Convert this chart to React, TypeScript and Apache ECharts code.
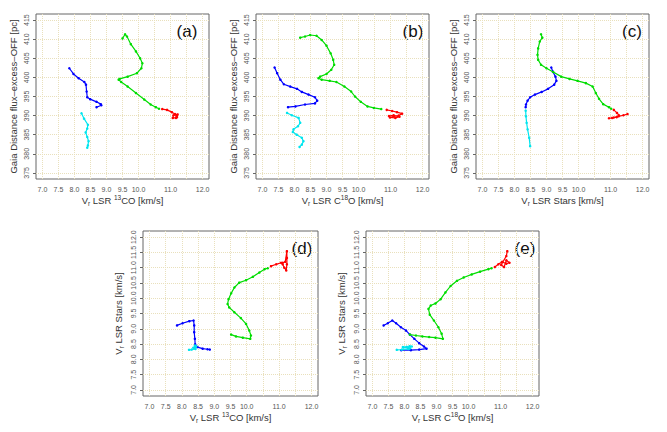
import React, { useEffect, useRef } from 'react';
import * as echarts from 'echarts';

// ---- tick values ----
const velTicks = [7, 7.5, 8, 8.5, 9, 9.5, 10, 10.5, 11, 11.5, 12];
const velLabels = [7, 7.5, 8, 8.5, 9, 9.5, 10, 11, 12];
const starTicks = [7, 7.5, 8, 8.5, 9, 9.5, 10, 10.5, 11, 11.5, 12];
const distTicks = [375, 380, 385, 390, 395, 400, 405, 410, 415];

// ---- (a) distance vs Vr 13CO ----
const a_blue = [[7.84, 402.4], [7.97, 400.9], [8.13, 399.8], [8.31, 398.8], [8.36, 398.1], [8.38, 396.3], [8.40, 394.8], [8.49, 394.3], [8.69, 393.6], [8.82, 393.0], [8.84, 392.7], [8.69, 392.2]];
const a_cyan = [[8.22, 390.6], [8.30, 389.2], [8.42, 387.6], [8.40, 386.6], [8.35, 385.6], [8.40, 384.4], [8.44, 383.3], [8.42, 382.2], [8.40, 381.6]];
const a_green = [[9.50, 410.2], [9.58, 411.3], [9.64, 410.7], [9.76, 408.7], [9.92, 406.8], [10.05, 405.0], [10.12, 403.7], [10.09, 402.4], [9.95, 401.1], [9.66, 400.2], [9.41, 399.6], [9.38, 399.4], [9.46, 398.8], [9.66, 397.6], [9.92, 395.9], [10.18, 394.2], [10.38, 392.9], [10.54, 392.2], [10.64, 391.8]];
const a_red = [[10.74, 391.7], [10.89, 391.5], [11.04, 390.9], [11.14, 390.4], [11.19, 389.8], [11.17, 389.4], [11.07, 389.4], [11.09, 390.1], [11.22, 390.3], [11.20, 389.6]];

// ---- (b) distance vs Vr C18O ----
const b_blue = [[7.38, 402.6], [7.46, 401.1], [7.56, 399.4], [7.67, 398.2], [7.87, 397.6], [8.08, 397.0], [8.23, 396.2], [8.44, 395.5], [8.64, 394.8], [8.71, 393.9], [8.64, 393.2], [8.33, 392.9], [8.03, 392.4], [7.80, 392.2]];
const b_cyan = [[7.77, 390.7], [7.92, 390.1], [8.13, 389.4], [8.18, 388.1], [8.11, 387.2], [7.97, 386.4], [7.95, 385.7], [8.07, 385.0], [8.23, 384.2], [8.28, 383.3], [8.23, 382.4], [8.16, 381.8]];
const b_green = [[8.18, 410.4], [8.33, 410.7], [8.49, 411.1], [8.69, 410.9], [8.85, 409.8], [9.00, 408.3], [9.13, 406.3], [9.21, 404.6], [9.24, 403.3], [9.15, 402.0], [9.00, 400.9], [8.80, 400.2], [8.75, 399.8], [8.85, 399.4], [9.10, 399.1], [9.31, 398.8], [9.56, 397.6], [9.77, 396.3], [9.89, 395.0], [10.07, 393.6], [10.28, 392.4], [10.48, 392.0], [10.71, 391.7]];
const b_red = [[10.88, 391.5], [11.05, 391.2], [11.20, 390.9], [11.36, 390.5], [11.25, 390.0], [11.10, 389.8], [10.98, 389.5], [11.15, 389.4], [11.28, 389.7], [11.10, 390.1], [10.95, 389.9]];

// ---- (c) distance vs Vr Stars ----
const c_blue = [[9.15, 402.6], [9.20, 401.5], [9.28, 400.2], [9.31, 399.1], [9.24, 398.1], [9.05, 397.0], [8.85, 396.2], [8.64, 395.5], [8.49, 394.8], [8.41, 393.9], [8.36, 392.9], [8.35, 392.2]];
const c_cyan = [[8.35, 391.3], [8.36, 389.8], [8.38, 388.1], [8.41, 386.4], [8.46, 384.2], [8.49, 382.0]];
const c_green = [[8.83, 411.3], [8.87, 410.4], [8.79, 409.4], [8.74, 407.6], [8.72, 405.9], [8.74, 404.6], [8.83, 403.3], [9.00, 402.4], [9.21, 401.4], [9.46, 400.2], [9.72, 399.6], [9.97, 399.1], [10.23, 398.5], [10.44, 397.6], [10.54, 395.9], [10.64, 394.4], [10.77, 393.0], [10.95, 392.2], [11.02, 391.8]];
const c_red = [[11.10, 391.5], [11.20, 390.7], [11.26, 390.1], [11.19, 389.6], [11.05, 389.4], [10.95, 389.3], [11.10, 389.5], [11.25, 389.8], [11.40, 390.1], [11.53, 390.4]];

// ---- (d) Vr Stars vs Vr 13CO ----
const d_blue = [[7.85, 9.11], [8.02, 9.18], [8.23, 9.25], [8.36, 9.27], [8.38, 9.11], [8.38, 8.89], [8.40, 8.67], [8.41, 8.49], [8.48, 8.40], [8.64, 8.35], [8.79, 8.33], [8.86, 8.32]];
const d_cyan = [[8.22, 8.31], [8.30, 8.32], [8.42, 8.34], [8.40, 8.36], [8.35, 8.38], [8.40, 8.40], [8.44, 8.42], [8.42, 8.44], [8.40, 8.45]];
const d_green = [[9.52, 8.81], [9.67, 8.75], [9.88, 8.71], [10.11, 8.67], [10.13, 8.78], [10.08, 8.94], [9.98, 9.16], [9.82, 9.35], [9.62, 9.54], [9.46, 9.70], [9.41, 9.81], [9.44, 9.97], [9.52, 10.16], [9.62, 10.35], [9.77, 10.51], [9.98, 10.59], [10.19, 10.70], [10.39, 10.84], [10.55, 10.95], [10.65, 10.98]];
const d_red = [[10.75, 11.05], [10.91, 11.11], [11.06, 11.16], [11.11, 11.11], [11.16, 11.00], [11.22, 10.91], [11.24, 11.11], [11.24, 11.32], [11.24, 11.54], [11.19, 11.19], [11.11, 11.16]];

// ---- (e) Vr Stars vs Vr C18O ----
const e_blue = [[7.35, 9.11], [7.48, 9.18], [7.62, 9.27], [7.74, 9.18], [7.89, 9.05], [8.05, 8.94], [8.17, 8.81], [8.31, 8.67], [8.46, 8.53], [8.61, 8.42], [8.69, 8.35], [8.46, 8.32], [8.20, 8.30], [7.90, 8.30]];
const e_cyan = [[7.76, 8.31], [7.92, 8.32], [8.13, 8.34], [8.18, 8.36], [8.11, 8.38], [7.97, 8.39], [7.95, 8.40], [8.07, 8.41], [8.23, 8.42], [8.16, 8.43]];
const e_green = [[8.17, 8.81], [8.36, 8.78], [8.56, 8.75], [8.77, 8.73], [8.97, 8.71], [9.20, 8.67], [9.16, 8.84], [9.06, 9.05], [8.92, 9.27], [8.79, 9.46], [8.75, 9.65], [8.82, 9.76], [8.97, 9.83], [9.13, 9.97], [9.28, 10.19], [9.44, 10.40], [9.64, 10.57], [9.85, 10.68], [10.10, 10.78], [10.36, 10.87], [10.62, 10.95], [10.72, 10.98]];
const e_red = [[10.82, 11.02], [10.93, 11.11], [11.05, 11.19], [11.18, 11.13], [11.28, 11.16], [11.18, 11.24], [11.11, 11.02], [11.02, 11.09], [11.18, 11.38], [11.21, 11.54]];

const FONT = '"Liberation Sans", Arial, Helvetica, sans-serif';
const COLORS = ['#0000ff', '#00e5ee', '#00dd00', '#ff0000'];

const NAME_13CO = '{n|V}{sub|r}{n| LSR }{sup|13}{n|CO [km/s]}';
const NAME_C18O = '{n|V}{sub|r}{n| LSR C}{sup|18}{n|O [km/s]}';
const NAME_STARS = '{n|V}{sub|r}{n| LSR Stars [km/s]}';
const NAME_DIST = 'Gaia Distance flux\u2013excess\u2013OFF [pc]';

const panels = [
  { grid: { left: 36, top: 14, width: 173, height: 165 }, xName: NAME_13CO, yName: NAME_DIST, dist: true, tag: '(a)', tagPos: [187, 31], data: [a_blue, a_cyan, a_green, a_red] },
  { grid: { left: 256, top: 14, width: 173, height: 165 }, xName: NAME_C18O, yName: NAME_DIST, dist: true, tag: '(b)', tagPos: [413, 31], data: [b_blue, b_cyan, b_green, b_red] },
  { grid: { left: 476, top: 14, width: 173, height: 165 }, xName: NAME_STARS, yName: NAME_DIST, dist: true, tag: '(c)', tagPos: [632, 31], data: [c_blue, c_cyan, c_green, c_red] },
  { grid: { left: 143, top: 231, width: 175, height: 165 }, xName: NAME_13CO, yName: NAME_STARS, dist: false, tag: '(d)', tagPos: [302, 248], data: [d_blue, d_cyan, d_green, d_red] },
  { grid: { left: 366, top: 231, width: 173, height: 165 }, xName: NAME_C18O, yName: NAME_STARS, dist: false, tag: '(e)', tagPos: [525, 248], data: [e_blue, e_cyan, e_green, e_red] },
];

const rich = {
  n: { fontSize: 9.5, lineHeight: 13, color: '#333', fontFamily: FONT },
  sub: { fontSize: 6.5, lineHeight: 9, verticalAlign: 'bottom', color: '#333', fontFamily: FONT },
  sup: { fontSize: 6.5, lineHeight: 7, verticalAlign: 'top', color: '#333', fontFamily: FONT },
};

const gridLine = { show: true, lineStyle: { color: '#e9e0bc', type: 'dotted', width: 1 } };

function buildOption() {
  const grids: any[] = [];
  const xAxes: any[] = [];
  const yAxes: any[] = [];
  const series: any[] = [];
  const graphics: any[] = [];
  panels.forEach((p, i) => {
    grids.push({ ...p.grid, show: true, borderColor: '#666', borderWidth: 1, backgroundColor: 'transparent' });
    xAxes.push({
      type: 'value', gridIndex: i, min: 6.8, max: 12.2,
      name: p.xName, nameLocation: 'middle', nameGap: 15,
      nameTextStyle: { fontSize: 9.5, color: '#333', fontFamily: FONT, rich },
      axisLine: { show: false },
      axisTick: { show: false, customValues: velTicks },
      axisLabel: { customValues: velLabels, fontSize: 7, color: '#555', margin: 7, fontFamily: FONT, formatter: (v: number) => v.toFixed(1) },
      splitLine: gridLine,
    });
    const yTicks = p.dist ? distTicks : starTicks;
    yAxes.push({
      type: 'value', gridIndex: i,
      min: p.dist ? 373.4 : 6.8, max: p.dist ? 416.6 : 12.2,
      name: p.yName, nameLocation: 'middle', nameGap: 18, nameRotate: 90,
      nameTextStyle: { fontSize: 9.5, color: '#333', fontFamily: FONT, rich },
      axisLine: { show: false },
      axisTick: { show: true, customValues: yTicks, length: 3, lineStyle: { color: '#666' } },
      axisLabel: { customValues: yTicks, rotate: 90, fontSize: 7, color: '#555', margin: 6, fontFamily: FONT, formatter: (v: number) => (p.dist ? String(v) : v.toFixed(1)) },
      splitLine: gridLine,
    });
    p.data.forEach((d, k) => {
      series.push({
        type: 'line', xAxisIndex: i, yAxisIndex: i, data: d,
        symbol: 'circle', symbolSize: 2.5, showSymbol: true,
        lineStyle: { color: COLORS[k], width: 1.2 },
        itemStyle: { color: COLORS[k] },
        z: 3 + k,
      });
    });
    graphics.push({
      type: 'text', x: p.tagPos[0], y: p.tagPos[1],
      style: { text: p.tag, fontSize: 17, fontFamily: FONT, fill: '#111', align: 'center', verticalAlign: 'middle', textAlign: 'center', textVerticalAlign: 'middle' },
    });
  });
  return {
    animation: false,
    backgroundColor: '#ffffff',
    textStyle: { fontFamily: FONT },
    grid: grids, xAxis: xAxes, yAxis: yAxes, series, graphic: graphics,
  };
}

export default function App() {
  const ref = useRef<HTMLDivElement>(null);
  useEffect(() => {
    if (!ref.current) return;
    const chart = echarts.init(ref.current, undefined, { renderer: 'svg' });
    chart.setOption(buildOption() as any);
    return () => chart.dispose();
  }, []);
  return <div ref={ref} style={{ position: 'fixed', left: 0, top: 0, width: 667, height: 432, background: '#fff' }} />;
}
